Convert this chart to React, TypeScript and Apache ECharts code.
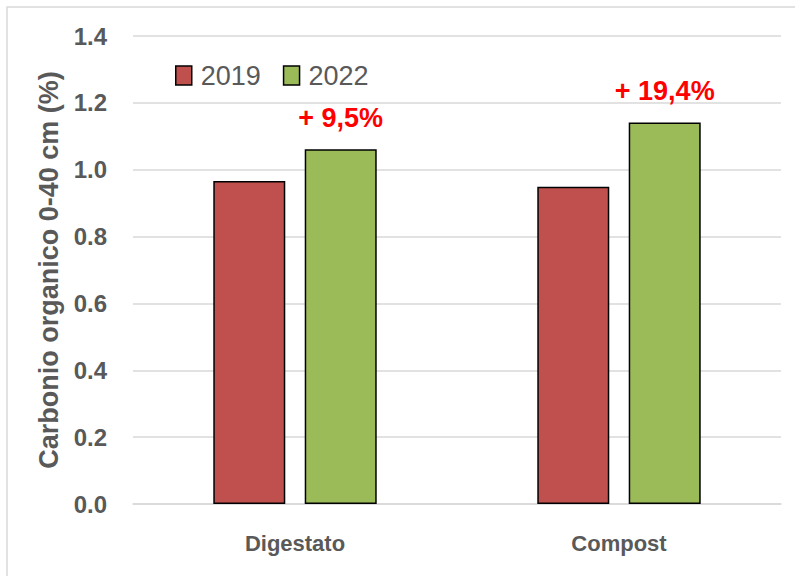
import React, { useEffect, useRef } from "react";
import * as echarts from "echarts";

const categories = ["Digestato", "Compost"];
const seriesNames = ["2019", "2022"];
const values2019 = [0.966, 0.949];
const values2022 = [1.061, 1.141];
const changeLabels = ["+ 9,5%", "+ 19,4%"];
const yTicks = { min: 0, max: 1.4, interval: 0.2 };
const yAxisTitle = "Carbonio organico 0-40 cm (%)";

const FONT = "'Liberation Sans', Arial, sans-serif";
const GRAY = "#595959";

export default function App() {
  const ref = useRef<HTMLDivElement>(null);
  useEffect(() => {
    if (!ref.current) return;
    const chart = echarts.init(ref.current, null, { renderer: "svg" });
    chart.setOption({
      animation: false,
      backgroundColor: "#ffffff",
      graphic: [
        {
          type: "rect",
          shape: { x: 7, y: 7, width: 820, height: 600 },
          style: { fill: "none", stroke: "#D9D9D9", lineWidth: 1.5 },
          silent: true,
          z: -1,
        },
      ],
      grid: { left: 133, right: 14, top: 36, bottom: 72, containLabel: false },
      legend: {
        left: 175,
        top: 62,
        padding: 0,
        icon: "rect",
        itemWidth: 16,
        itemHeight: 19,
        itemGap: 22,
        data: seriesNames,
        itemStyle: { borderColor: "#000000", borderWidth: 1.5 },
        textStyle: {
          fontFamily: FONT,
          fontSize: 27,
          color: GRAY,
          padding: [0, 0, 0, 4],
        },
      },
      xAxis: {
        type: "category",
        data: categories,
        axisLine: { show: true, lineStyle: { color: "#D9D9D9", width: 1.5 } },
        axisTick: { show: false },
        axisLabel: {
          fontFamily: FONT,
          fontWeight: "bold",
          fontSize: 22,
          color: GRAY,
          margin: 28,
        },
      },
      yAxis: {
        type: "value",
        min: yTicks.min,
        max: yTicks.max,
        interval: yTicks.interval,
        name: yAxisTitle,
        nameLocation: "middle",
        nameGap: 70,
        nameTextStyle: {
          fontFamily: FONT,
          fontWeight: "bold",
          fontSize: 27,
          color: GRAY,
        },
        axisLine: { show: false },
        axisTick: { show: false },
        splitLine: { lineStyle: { color: "#D9D9D9", width: 1.5 } },
        axisLabel: {
          fontFamily: FONT,
          fontWeight: "bold",
          fontSize: 24,
          color: GRAY,
          margin: 26,
          formatter: (v: number) => v.toFixed(1),
        },
      },
      series: [
        {
          name: seriesNames[0],
          type: "bar",
          data: values2019,
          barWidth: 72,
          barGap: "27%",
          itemStyle: { color: "#C0504D", borderColor: "#000000", borderWidth: 1.5 },
        },
        {
          name: seriesNames[1],
          type: "bar",
          data: values2022.map((v, i) => ({
            value: v,
            label: {
              show: true,
              position: "top",
              distance: 18,
              formatter: changeLabels[i],
              fontFamily: FONT,
              fontWeight: "bold",
              fontSize: 27,
              color: "#FF0000",
            },
          })),
          barWidth: 72,
          itemStyle: { color: "#9BBB59", borderColor: "#000000", borderWidth: 1.5 },
        },
      ],
    });
    return () => chart.dispose();
  }, []);
  return (
    <div
      ref={ref}
      style={{ position: "fixed", left: 0, top: 0, width: 795, height: 576 }}
    />
  );
}
